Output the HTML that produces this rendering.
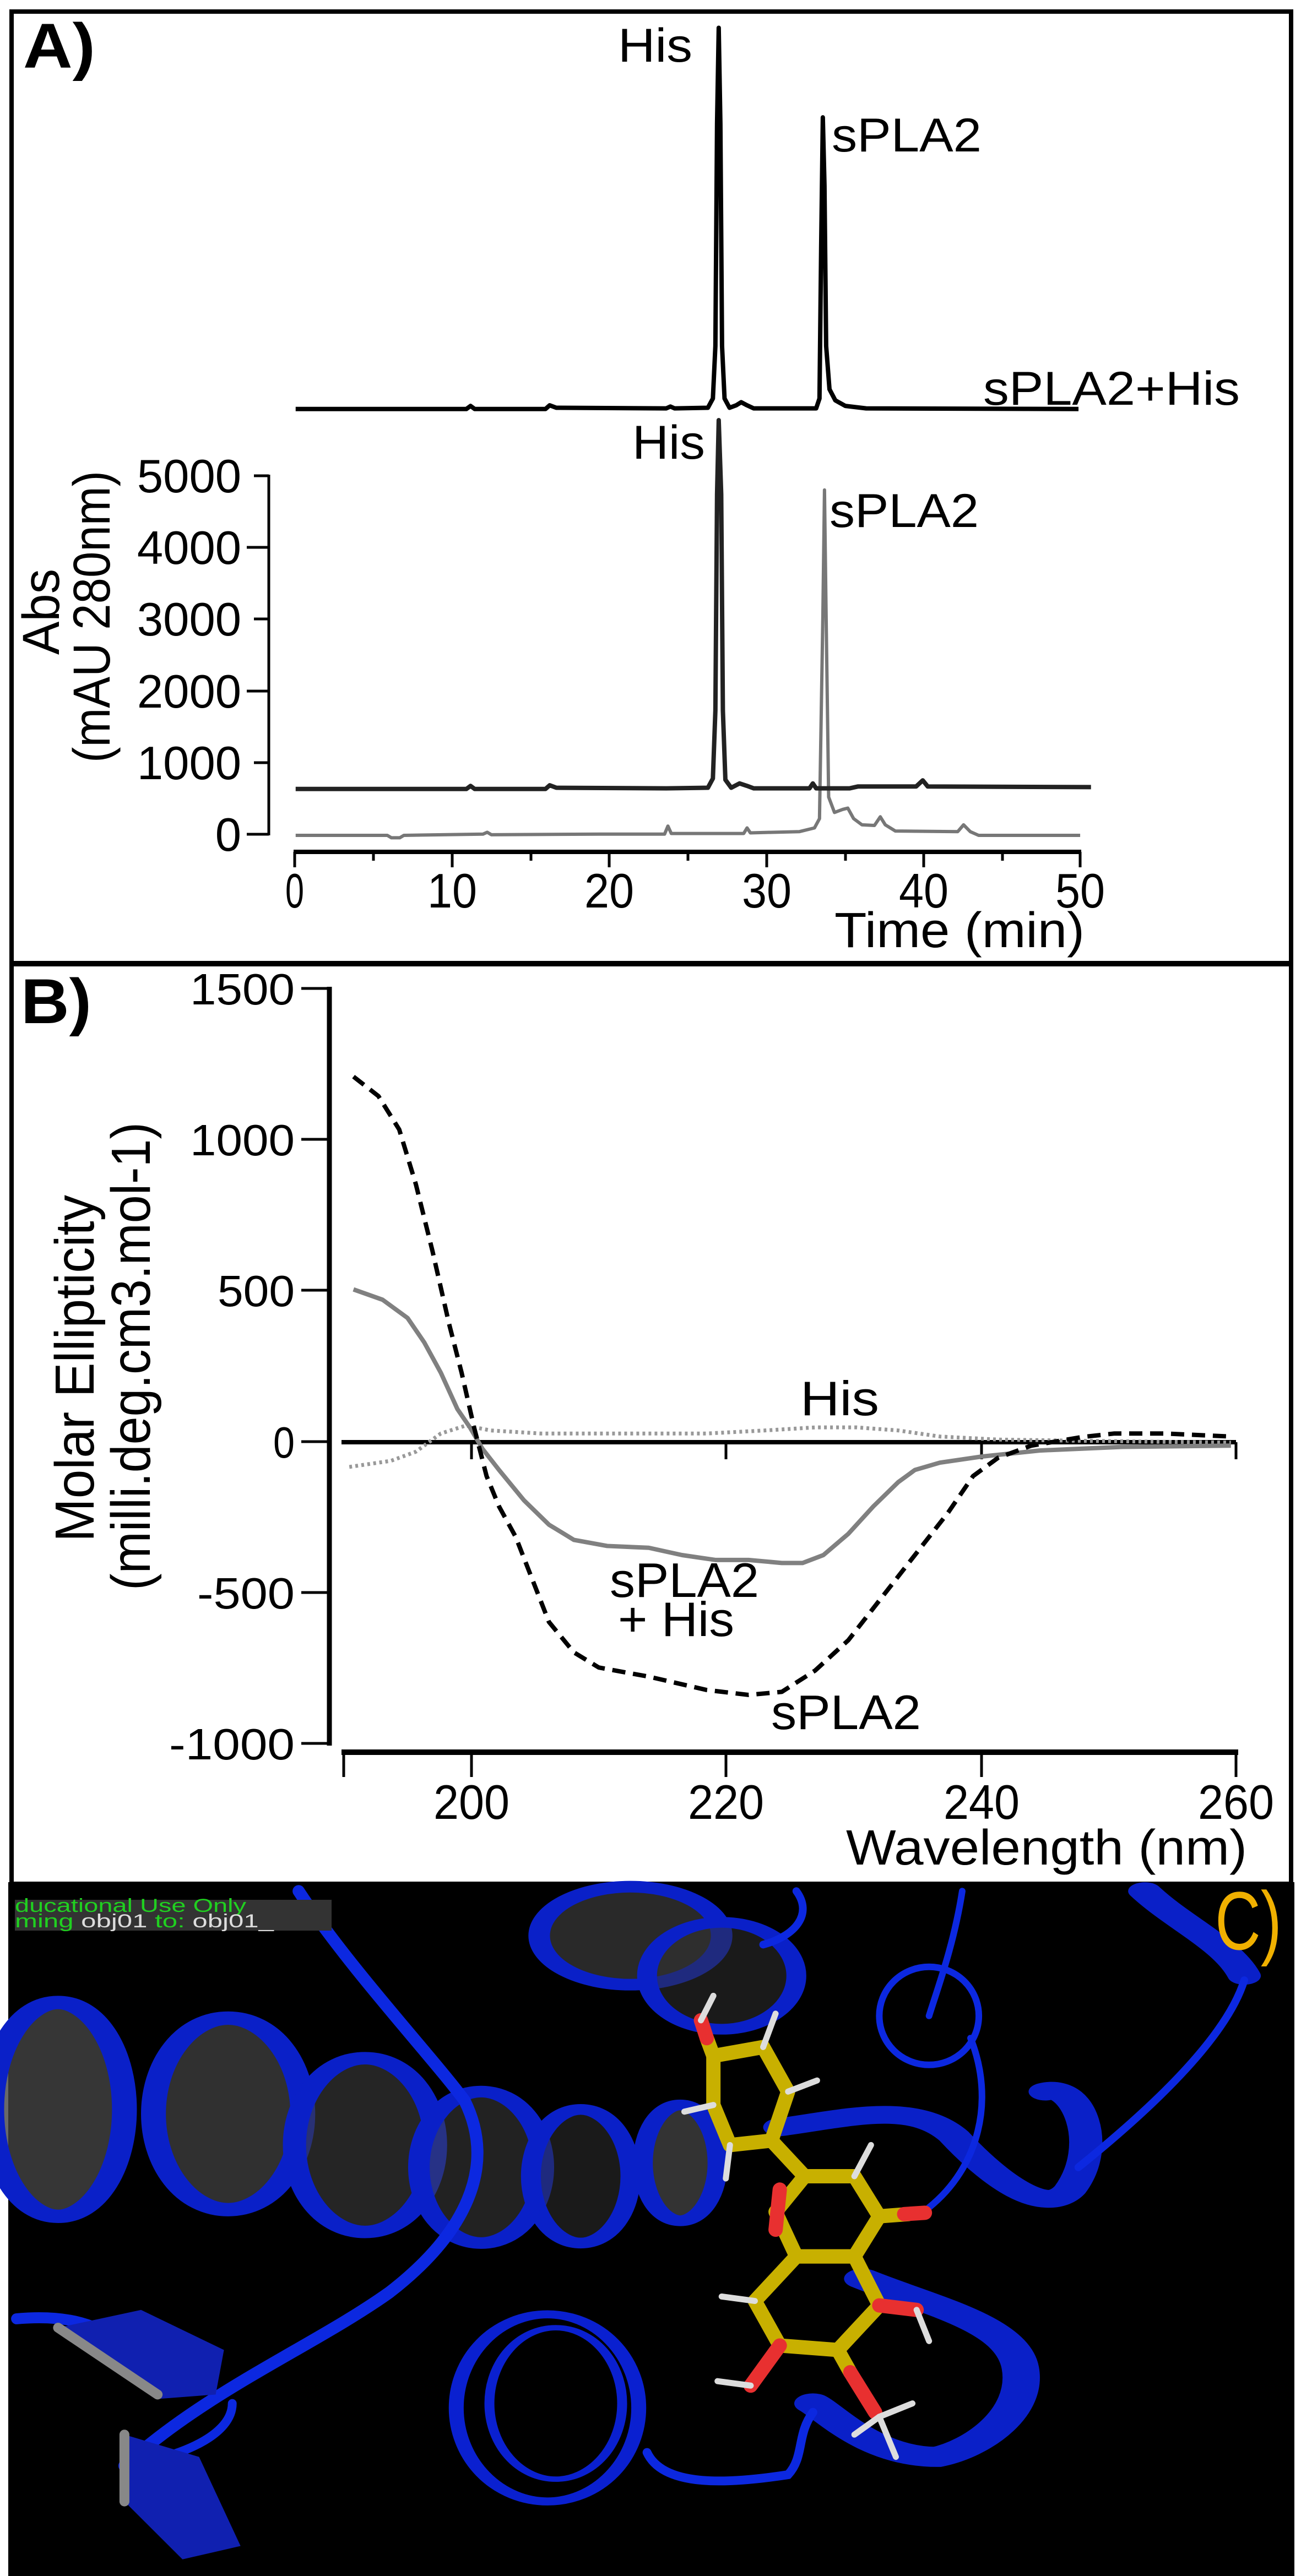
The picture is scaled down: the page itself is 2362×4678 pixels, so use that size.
<!DOCTYPE html>
<html><head><meta charset="utf-8"><style>
html,body{margin:0;padding:0;background:#fff;}
svg{display:block;}
text{font-family:"Liberation Sans",sans-serif;}
</style></head><body>
<svg width="2362" height="4678" viewBox="0 0 2362 4678" xmlns="http://www.w3.org/2000/svg">
<rect x="0" y="0" width="2362" height="4678" fill="#fff"/>
<rect x="21" y="21" width="2323" height="3400" fill="none" stroke="#000" stroke-width="8"/>
<line x1="17" y1="1750" x2="2348" y2="1750" stroke="#000" stroke-width="10"/>

<text x="42" y="123" font-size="115" font-weight="bold" textLength="131" lengthAdjust="spacingAndGlyphs">A)</text>
<line x1="488" y1="862" x2="488" y2="1517" stroke="#000" stroke-width="5"/>
<g stroke="#000" stroke-width="5">
<line x1="461" y1="864" x2="488" y2="864"/>
<line x1="448" y1="994" x2="488" y2="994"/>
<line x1="461" y1="1124" x2="488" y2="1124"/>
<line x1="448" y1="1255" x2="488" y2="1255"/>
<line x1="461" y1="1385" x2="488" y2="1385"/>
<line x1="448" y1="1515" x2="488" y2="1515"/>
</g>
<g font-size="85" text-anchor="end">
<text x="438" y="894">5000</text>
<text x="438" y="1024">4000</text>
<text x="438" y="1154">3000</text>
<text x="438" y="1285">2000</text>
<text x="438" y="1415">1000</text>
<text x="438" y="1545">0</text>
</g>
<text transform="translate(107,1111) rotate(-90)" font-size="95" text-anchor="middle" textLength="156" lengthAdjust="spacingAndGlyphs">Abs</text>
<text transform="translate(199,1120) rotate(-90)" font-size="95" text-anchor="middle" textLength="530" lengthAdjust="spacingAndGlyphs">(mAU 280nm)</text>
<line x1="533" y1="1547" x2="1963" y2="1547" stroke="#000" stroke-width="8"/>
<g stroke="#000" stroke-width="5">
<line x1="535" y1="1547" x2="535" y2="1575"/><line x1="678" y1="1547" x2="678" y2="1563"/>
<line x1="821" y1="1547" x2="821" y2="1575"/><line x1="964" y1="1547" x2="964" y2="1563"/>
<line x1="1106" y1="1547" x2="1106" y2="1575"/><line x1="1249" y1="1547" x2="1249" y2="1563"/>
<line x1="1392" y1="1547" x2="1392" y2="1575"/><line x1="1535" y1="1547" x2="1535" y2="1563"/>
<line x1="1677" y1="1547" x2="1677" y2="1575"/><line x1="1820" y1="1547" x2="1820" y2="1563"/>
<line x1="1961" y1="1547" x2="1961" y2="1575"/>
</g>
<g font-size="88" text-anchor="middle">
<text x="535" y="1648" textLength="34" lengthAdjust="spacingAndGlyphs">0</text>
<text x="821" y="1648" textLength="90" lengthAdjust="spacingAndGlyphs">10</text>
<text x="1106" y="1648" textLength="90" lengthAdjust="spacingAndGlyphs">20</text>
<text x="1392" y="1648" textLength="90" lengthAdjust="spacingAndGlyphs">30</text>
<text x="1677" y="1648" textLength="90" lengthAdjust="spacingAndGlyphs">40</text>
<text x="1961" y="1648" textLength="90" lengthAdjust="spacingAndGlyphs">50</text>
</g>
<text x="1515" y="1720" font-size="90" textLength="454" lengthAdjust="spacingAndGlyphs">Time (min)</text>
<g transform="scale(1.512,1.122)" fill="none" stroke-linejoin="round">
<path vector-effect="non-scaling-stroke" stroke="#000" stroke-width="8" d="M355,662 L560,662 L565,657 L570,662 L655,662 L660,656 L668,660 L800,661 L805,658 L810,661 L850,660 L856,645 L859,560 L861,200 L863,45 L865,200 L867,560 L870,645 L876,660 L884,656 L890,651 L897,656 L905,661 L980,661 L984,645 L986,400 L988,190 L990,300 L992,560 L996,630 L1003,648 L1015,657 L1040,661 L1295,662"/>
<path vector-effect="non-scaling-stroke" stroke="#777" stroke-width="6" d="M355,1352 L465,1352 L470,1356 L480,1356 L485,1352 L580,1350 L585,1347 L590,1351 L720,1350 L798,1350 L802,1337 L806,1349 L893,1349 L897,1340 L901,1348 L960,1346 L978,1340 L984,1325 L988,1000 L990,793 L992,1000 L995,1290 L1002,1315 L1012,1310 L1018,1308 L1025,1325 L1035,1335 L1050,1336 L1057,1322 L1063,1335 L1075,1345 L1150,1346 L1157,1335 L1165,1346 L1175,1352 L1297,1352"/>
<path vector-effect="non-scaling-stroke" stroke="#222" stroke-width="8" d="M355,1277 L560,1277 L565,1272 L570,1277 L655,1277 L660,1271 L668,1275 L800,1276 L850,1275 L856,1260 L859,1150 L861,800 L863,680 L866,800 L868,1150 L871,1262 L878,1275 L888,1268 L897,1272 L905,1276 L972,1276 L976,1268 L980,1276 L1020,1276 L1030,1273 L1100,1273 L1108,1263 L1114,1273 L1310,1274"/>
</g>
<g font-size="86">
<text x="1122" y="112" textLength="135" lengthAdjust="spacingAndGlyphs">His</text>
<text x="1510" y="275" textLength="272" lengthAdjust="spacingAndGlyphs">sPLA2</text>
<text x="1785" y="735" textLength="466" lengthAdjust="spacingAndGlyphs">sPLA2+His</text>
<text x="1148" y="833" textLength="132" lengthAdjust="spacingAndGlyphs">His</text>
<text x="1506" y="957" textLength="271" lengthAdjust="spacingAndGlyphs">sPLA2</text>
</g>

<text x="38" y="1858" font-size="115" font-weight="bold" textLength="128" lengthAdjust="spacingAndGlyphs">B)</text>
<line x1="598" y1="1792" x2="598" y2="3170" stroke="#000" stroke-width="9"/>
<g stroke="#000" stroke-width="5">
<line x1="547" y1="1795" x2="598" y2="1795"/>
<line x1="547" y1="2069" x2="598" y2="2069"/>
<line x1="547" y1="2343" x2="598" y2="2343"/>
<line x1="547" y1="2618" x2="598" y2="2618"/>
<line x1="547" y1="2892" x2="598" y2="2892"/>
<line x1="547" y1="3166" x2="598" y2="3166"/>
</g>
<g font-size="80" text-anchor="end">
<text x="535" y="1824" textLength="190" lengthAdjust="spacingAndGlyphs">1500</text>
<text x="535" y="2098" textLength="190" lengthAdjust="spacingAndGlyphs">1000</text>
<text x="535" y="2372" textLength="140" lengthAdjust="spacingAndGlyphs">500</text>
<text x="535" y="2647" textLength="39" lengthAdjust="spacingAndGlyphs">0</text>
<text x="535" y="2921" textLength="177" lengthAdjust="spacingAndGlyphs">-500</text>
<text x="535" y="3195" textLength="228" lengthAdjust="spacingAndGlyphs">-1000</text>
</g>
<text transform="translate(170,2485) rotate(-90)" font-size="100" text-anchor="middle" textLength="630" lengthAdjust="spacingAndGlyphs">Molar Ellipticity</text>
<text transform="translate(272,2463) rotate(-90)" font-size="100" text-anchor="middle" textLength="850" lengthAdjust="spacingAndGlyphs">(milli.deg.cm3.mol-1)</text>
<line x1="620" y1="3182" x2="2248" y2="3182" stroke="#000" stroke-width="10"/>
<g stroke="#000" stroke-width="5">
<line x1="624" y1="3182" x2="624" y2="3227"/>
<line x1="856" y1="3182" x2="856" y2="3227"/>
<line x1="1318" y1="3182" x2="1318" y2="3227"/>
<line x1="1782" y1="3182" x2="1782" y2="3227"/>
<line x1="2244" y1="3182" x2="2244" y2="3227"/>
</g>
<g font-size="88" text-anchor="middle">
<text x="856" y="3303" textLength="138" lengthAdjust="spacingAndGlyphs">200</text>
<text x="1318" y="3303" textLength="138" lengthAdjust="spacingAndGlyphs">220</text>
<text x="1782" y="3303" textLength="138" lengthAdjust="spacingAndGlyphs">240</text>
<text x="2244" y="3303" textLength="138" lengthAdjust="spacingAndGlyphs">260</text>
</g>
<text x="1536" y="3386" font-size="90" textLength="728" lengthAdjust="spacingAndGlyphs">Wavelength (nm)</text>
<line x1="620" y1="2619" x2="2244" y2="2619" stroke="#000" stroke-width="8"/>
<g stroke="#000" stroke-width="5">
<line x1="856" y1="2619" x2="856" y2="2650"/>
<line x1="1318" y1="2619" x2="1318" y2="2650"/>
<line x1="1782" y1="2619" x2="1782" y2="2650"/>
<line x1="2244" y1="2619" x2="2244" y2="2650"/>
</g>
<g transform="translate(0,1720) scale(1.51,1.104)" fill="none" stroke-linejoin="round" stroke-linecap="butt">
<path vector-effect="non-scaling-stroke" stroke="#999" stroke-width="7" stroke-dasharray="5 6" d="M420,855 L470,845 L500,830 L530,800 L560,787 L590,795 L650,800 L750,800 L850,800 L920,795 L980,790 L1030,790 L1080,795 L1130,805 L1200,810 L1300,812 L1480,815"/>
<path vector-effect="non-scaling-stroke" stroke="#808080" stroke-width="8" d="M425,563 L460,580 L490,610 L510,650 L530,700 L550,760 L565,790 L580,825 L600,860 L630,910 L660,950 L690,975 L730,985 L780,988 L820,1000 L860,1008 L900,1008 L940,1013 L965,1013 L990,1000 L1020,965 L1050,920 L1080,880 L1100,860 L1130,848 L1180,838 L1250,828 L1350,822 L1480,820"/>
<path vector-effect="non-scaling-stroke" stroke="#000" stroke-width="8" stroke-dasharray="24 14" d="M425,213 L455,245 L480,300 L500,390 L520,500 L540,620 L555,700 L570,790 L585,870 L600,920 L620,970 L640,1040 L660,1110 L690,1160 L720,1185 L780,1200 L850,1222 L900,1230 L940,1225 L980,1190 L1020,1140 L1060,1070 L1100,1000 L1140,930 L1170,870 L1200,840 L1240,820 L1300,806 L1340,800 L1400,800 L1480,805"/>
</g>
<g font-size="88">
<text x="1453" y="2570" textLength="143" lengthAdjust="spacingAndGlyphs">His</text>
<text x="1107" y="2900" textLength="271" lengthAdjust="spacingAndGlyphs">sPLA2</text>
<text x="1122" y="2971" textLength="211" lengthAdjust="spacingAndGlyphs">+ His</text>
<text x="1400" y="3140" textLength="272" lengthAdjust="spacingAndGlyphs">sPLA2</text>
</g>

<rect x="15" y="3418" width="2335" height="1260" fill="#000"/>
<g transform="translate(0,3410) scale(1.506,0.809)" fill="none" stroke-linecap="round">
<g stroke="#0a20c8">
<ellipse cx="70" cy="520" rx="80" ry="240" fill="#444" fill-opacity="0.8" stroke-width="30"/>
<ellipse cx="275" cy="530" rx="90" ry="215" fill="#444" fill-opacity="0.7" stroke-width="30"/>
<ellipse cx="440" cy="600" rx="85" ry="195" fill="#3d3d3d" fill-opacity="0.6" stroke-width="28"/>
<ellipse cx="580" cy="650" rx="75" ry="170" fill="#444" fill-opacity="0.5" stroke-width="26"/>
<ellipse cx="700" cy="670" rx="60" ry="150" fill="#333" fill-opacity="0.5" stroke-width="24"/>
<ellipse cx="820" cy="640" rx="45" ry="130" fill="#555" fill-opacity="0.6" stroke-width="24"/>
<ellipse cx="760" cy="130" rx="110" ry="110" fill="#444" fill-opacity="0.6" stroke-width="26"/>
<ellipse cx="870" cy="220" rx="90" ry="120" fill="#333" fill-opacity="0.5" stroke-width="24"/>
<ellipse cx="660" cy="1190" rx="110" ry="210" stroke="#0a20d0" stroke-width="18"/>
<ellipse cx="670" cy="1180" rx="80" ry="170" stroke="#0a20d0" stroke-width="12"/>
<path d="M940,560 C1020,540 1100,500 1150,580 C1200,680 1260,760 1290,700 C1330,600 1300,460 1260,480" stroke-width="40"/>
<path d="M1040,900 C1120,960 1220,1000 1230,1100 C1240,1200 1180,1280 1130,1300 C1050,1300 1000,1200 980,1180" stroke-width="45"/>
<path d="M1380,30 C1420,100 1480,150 1500,220" stroke-width="40"/>
</g>
<g stroke="#0c28e0" vector-effect="non-scaling-stroke">
<path vector-effect="non-scaling-stroke" d="M360,30 C420,200 520,400 560,500 C600,650 560,800 470,930 C380,1050 250,1150 150,1320" stroke-width="22"/>
<path vector-effect="non-scaling-stroke" d="M1160,30 C1150,150 1130,250 1120,310" stroke-width="12"/>
<ellipse vector-effect="non-scaling-stroke" cx="1120" cy="310" rx="60" ry="110" stroke-width="12"/>
<path vector-effect="non-scaling-stroke" d="M1170,360 C1200,500 1180,650 1120,740" stroke-width="12"/>
<path vector-effect="non-scaling-stroke" d="M1500,230 C1480,350 1400,500 1300,650" stroke-width="14"/>
<path vector-effect="non-scaling-stroke" d="M960,30 C980,80 960,130 920,150" stroke-width="14"/>
<path vector-effect="non-scaling-stroke" d="M780,1290 C800,1370 880,1360 950,1340 C970,1300 960,1250 980,1200" stroke-width="16"/>
<path vector-effect="non-scaling-stroke" d="M20,990 C80,980 120,1000 160,1060" stroke-width="20"/>
<path vector-effect="non-scaling-stroke" d="M150,1320 C220,1300 280,1250 280,1180" stroke-width="16"/>
</g>
<path d="M70,1010 L170,970 L270,1060 L260,1160 L190,1170 Z" fill="#1020b0"/>
<path vector-effect="non-scaling-stroke" d="M70,1010 L190,1160" stroke="#888" stroke-width="18"/>
<path d="M150,1250 L240,1300 L290,1500 L220,1530 L150,1400 Z" fill="#1020b0"/>
<path vector-effect="non-scaling-stroke" d="M150,1250 L150,1400" stroke="#888" stroke-width="18"/>
<g stroke="#c8b000" stroke-width="26" stroke-linejoin="round">
<path vector-effect="non-scaling-stroke" d="M860,400 L920,380 L950,480 L930,590 L880,600 L860,510 Z"/>
<path vector-effect="non-scaling-stroke" d="M930,590 L970,670"/>
<path vector-effect="non-scaling-stroke" d="M970,670 L1030,670 L1060,760 L1030,850 L960,850 L935,750 Z"/>
<path vector-effect="non-scaling-stroke" d="M960,850 L1030,850 L1060,960 L1010,1060 L940,1050 L910,950 Z"/>
<path vector-effect="non-scaling-stroke" d="M1060,760 L1095,755"/>
<path vector-effect="non-scaling-stroke" d="M1010,1060 L1025,1110"/>
<path vector-effect="non-scaling-stroke" d="M860,400 L852,360"/>
</g>
<g stroke="#e83030" stroke-width="26">
<path vector-effect="non-scaling-stroke" d="M852,360 L845,320"/>
<path vector-effect="non-scaling-stroke" d="M1090,755 L1115,752"/>
<path vector-effect="non-scaling-stroke" d="M1060,960 L1105,970"/>
<path vector-effect="non-scaling-stroke" d="M940,1050 L905,1140"/>
<path vector-effect="non-scaling-stroke" d="M1025,1110 L1055,1200"/>
<path vector-effect="non-scaling-stroke" d="M940,700 L935,790"/>
</g>
<g stroke="#ddd" stroke-width="11">
<path vector-effect="non-scaling-stroke" d="M845,320 L860,265"/>
<path vector-effect="non-scaling-stroke" d="M920,380 L935,305"/>
<path vector-effect="non-scaling-stroke" d="M950,480 L985,455"/>
<path vector-effect="non-scaling-stroke" d="M860,510 L825,525"/>
<path vector-effect="non-scaling-stroke" d="M880,600 L875,675"/>
<path vector-effect="non-scaling-stroke" d="M1030,670 L1050,600"/>
<path vector-effect="non-scaling-stroke" d="M910,950 L870,940"/>
<path vector-effect="non-scaling-stroke" d="M1105,970 L1120,1040"/>
<path vector-effect="non-scaling-stroke" d="M905,1140 L865,1130"/>
<path vector-effect="non-scaling-stroke" d="M1060,1210 L1100,1180"/>
<path vector-effect="non-scaling-stroke" d="M1060,1210 L1030,1250"/>
<path vector-effect="non-scaling-stroke" d="M1060,1210 L1080,1300"/>
</g>
</g>
<rect x="27" y="3450" width="575" height="56" fill="#333"/>
<text x="27" y="3472" font-family="Liberation Mono,monospace" font-size="34" fill="#20d020" textLength="420" lengthAdjust="spacingAndGlyphs">ducational Use Only</text>
<text x="27" y="3500" font-family="Liberation Mono,monospace" font-size="34" fill="#20d020" textLength="470" lengthAdjust="spacingAndGlyphs">ming <tspan fill="#ddd">obj01</tspan> to: <tspan fill="#ddd">obj01_</tspan></text>
<text x="2206" y="3540" font-size="150" fill="#f0b000" textLength="121" lengthAdjust="spacingAndGlyphs">C)</text>
</svg>
</body></html>
